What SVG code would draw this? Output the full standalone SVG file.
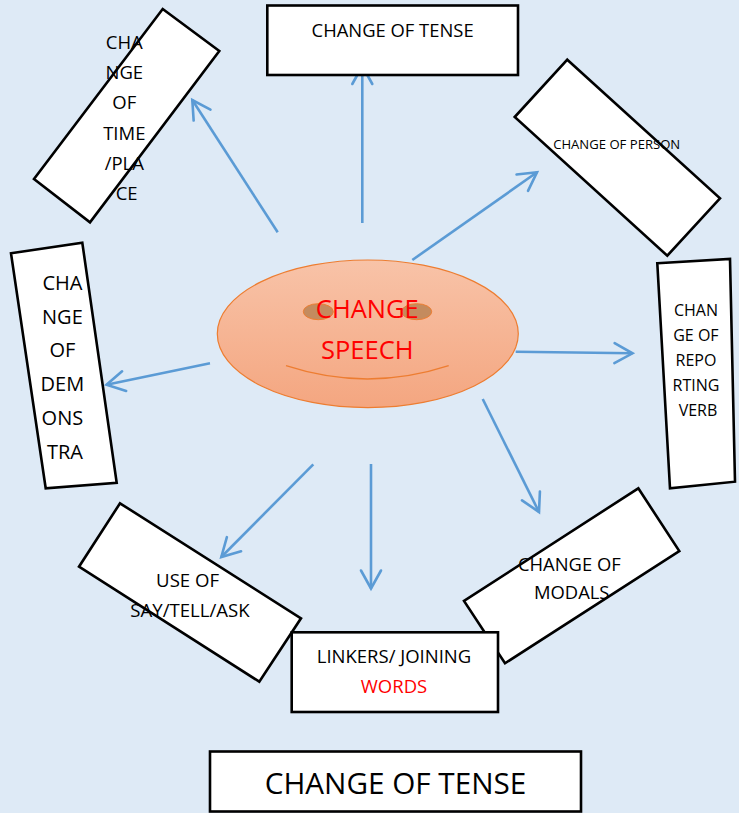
<svg xmlns="http://www.w3.org/2000/svg" width="739" height="813" viewBox="0 0 739 813">
<style>
.box{fill:#FFFFFF;stroke:#000000;stroke-width:2.6;stroke-linejoin:miter}
.t{font-family:"Open Sans","Noto Sans","Liberation Sans",sans-serif;fill:#000000;text-anchor:middle}
.red{fill:#FF0000}
.arr{stroke:#5B9BD5;stroke-width:2.6;fill:none;marker-end:url(#ah)}
</style>
<defs>
<linearGradient id="eg" x1="0" y1="0" x2="0" y2="1">
<stop offset="0" stop-color="#F8C3A8"/>
<stop offset="1" stop-color="#F4A680"/>
</linearGradient>
<marker id="ah" markerUnits="userSpaceOnUse" markerWidth="30" markerHeight="30" viewBox="-22 -15 30 30" refX="0" refY="0" orient="auto">
<path d="M-18,-10 L0,0 L-18,10" fill="none" stroke="#5B9BD5" stroke-width="2.6" stroke-linecap="round" stroke-linejoin="miter"/>
</marker>
</defs>
<rect x="0" y="0" width="739" height="813" fill="#DEEAF6"/>

<g id="connectors">
<line class="arr" x1="362.3" y1="223" x2="362.3" y2="66"/>
<line class="arr" x1="277.7" y1="232.3" x2="192.3" y2="100"/>
<line class="arr" x1="412.3" y1="260" x2="537" y2="172.3"/>
<line class="arr" x1="515.7" y1="351.7" x2="632.5" y2="353.3"/>
<line class="arr" x1="210" y1="363.3" x2="106.5" y2="384.8"/>
<line class="arr" x1="482.7" y1="399" x2="539" y2="512"/>
<line class="arr" x1="371" y1="464" x2="371" y2="588.5"/>
<line class="arr" x1="313.3" y1="464.3" x2="221.3" y2="557"/>
</g>

<g id="center">
<ellipse cx="367.8" cy="333.8" rx="150.5" ry="73.8" fill="url(#eg)" stroke="#ED7D31" stroke-width="1.2"/>
<ellipse cx="318.3" cy="311.7" rx="15" ry="8" fill="#C48B5E" stroke="#ED7D31" stroke-width="1"/>
<ellipse cx="416.7" cy="311.7" rx="15" ry="8" fill="#C48B5E" stroke="#ED7D31" stroke-width="1"/>
<path d="M286,365.7 Q367.3,392.3 448.7,365.7" fill="none" stroke="#ED7D31" stroke-width="1.3"/>
<text class="t red" x="367.3" y="318" font-size="25.5">CHANGE</text>
<text class="t red" x="367.3" y="359" font-size="25.5">SPEECH</text>
</g>

<g id="tense-top">
<rect class="box" x="267.3" y="5.5" width="250.7" height="69.5"/>
<text class="t" x="392.6" y="36.6" font-size="18.4">CHANGE OF TENSE</text>
</g>

<g id="time-place">
<polygon class="box" points="162.7,9 219.3,51 90,222.3 34,179"/>
<text class="t" font-size="18.5">
<tspan x="126.7" y="49">CHA</tspan>
<tspan x="126.7" y="79.2">NGE</tspan>
<tspan x="126.7" y="109.4">OF</tspan>
<tspan x="126.7" y="139.6">TIME</tspan>
<tspan x="126.7" y="169.8">/PLA</tspan>
<tspan x="126.7" y="200">CE</tspan>
</text>
</g>

<g id="person">
<polygon class="box" points="567.3,59.7 720,198.3 667.3,255.7 514.7,117"/>
<text class="t" x="616.7" y="148.6" font-size="13.1">CHANGE OF PERSON</text>
</g>

<g id="demonstrative">
<polygon class="box" points="11,253.3 82.3,242.7 116.7,482.7 45.7,488.3"/>
<text class="t" font-size="20">
<tspan x="65" y="290">CHA</tspan>
<tspan x="65" y="323.7">NGE</tspan>
<tspan x="65" y="357.4">OF</tspan>
<tspan x="65" y="391.1">DEM</tspan>
<tspan x="65" y="424.8">ONS</tspan>
<tspan x="65" y="458.5">TRA</tspan>
</text>
</g>

<g id="reporting-verb">
<polygon class="box" points="657.3,263.3 730,259 735,481.7 670,488.3"/>
<text class="t" font-size="16">
<tspan x="698" y="315.7">CHAN</tspan>
<tspan x="698" y="340.7">GE OF</tspan>
<tspan x="698" y="365.7">REPO</tspan>
<tspan x="698" y="390.7">RTING</tspan>
<tspan x="698" y="415.7">VERB</tspan>
</text>
</g>

<g id="modals">
<polygon class="box" points="638.3,488.3 679.3,551 505,663.3 464,601"/>
<text class="t" font-size="18.4">
<tspan x="571.7" y="570.6">CHANGE OF</tspan>
<tspan x="571.7" y="599.3">MODALS</tspan>
</text>
</g>

<g id="say-tell-ask">
<polygon class="box" points="120,503.3 301,618.3 259.3,681.7 79,566.7"/>
<text class="t" font-size="18.6">
<tspan x="190" y="586.6">USE OF</tspan>
<tspan x="190" y="616.6">SAY/TELL/ASK</tspan>
</text>
</g>

<g id="linkers">
<rect class="box" x="291.7" y="632.3" width="206.3" height="79.7"/>
<text class="t" x="394" y="663.3" font-size="18.5">LINKERS/ JOINING</text>
<text class="t red" x="394" y="693.3" font-size="18.5">WORDS</text>
</g>

<g id="tense-bottom">
<rect class="box" x="210" y="751.5" width="371" height="60"/>
<text class="t" x="395.5" y="793.6" font-size="29.7">CHANGE OF TENSE</text>
</g>
</svg>
